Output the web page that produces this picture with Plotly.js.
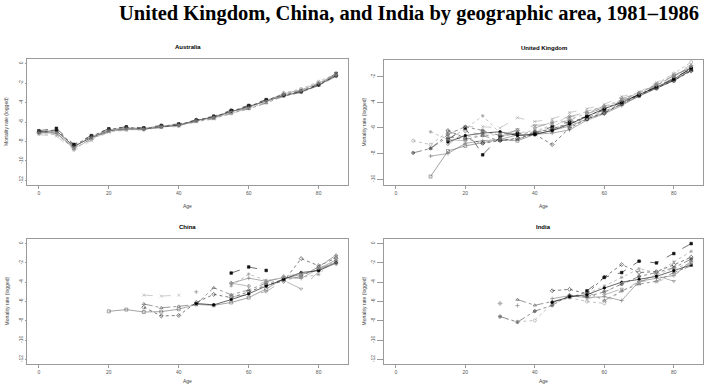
<!DOCTYPE html>
<html><head><meta charset="utf-8">
<script src="https://cdn.plot.ly/plotly-3.0.1.min.js"></script>
<style>html,body{margin:0;padding:0;background:#fff;}#chart{width:708px;height:386px;}</style>
</head><body><div id="chart"></div>
<script>
const n = null;
const ages = [0,5,10,15,20,25,30,35,40,45,50,55,60,65,70,75,80,85];
const xTicks = [0,20,40,60,80];
const yTicksFull = [0,-2,-4,-6,-8,-10,-12];
const yTicksUK = [-2,-4,-6,-8,-10];
const panelTitles = ["Australia","United Kingdom","China","India"];
const mainTitle = "United Kingdom, China, and India by geographic area, 1981–1986";
const xLabel = "Age";
const yLabel = "Mortality rate (logged)";

// Australia
const aus1 = [-7.0,-6.9,-8.5,-7.6,-6.9,-6.7,-6.75,-6.5,-6.35,-5.85,-5.5,-4.95,-4.45,-3.85,-3.3,-2.9,-2.2,-1.2];
const aus2 = [-6.9,-6.65,-8.3,-7.4,-6.7,-6.5,-6.6,-6.35,-6.2,-5.8,-5.4,-4.8,-4.3,-3.7,-3.25,-2.8,-2.1,-1.0];
const aus3 = [-7.2,-7.3,-8.7,-7.8,-6.95,-6.8,-6.8,-6.5,-6.4,-5.9,-5.6,-5.1,-4.6,-3.95,-3.0,-2.6,-1.85,-1.05];
const aus4 = [-7.1,-7.05,-8.8,-7.7,-7.0,-6.75,-6.7,-6.55,-6.3,-5.95,-5.65,-5.1,-4.65,-4.05,-3.35,-2.95,-2.25,-1.3];
const aus5 = [-6.95,-7.2,-8.6,-7.5,-6.8,-6.6,-6.65,-6.4,-6.25,-5.85,-5.45,-4.9,-4.5,-3.8,-3.1,-2.7,-2.0,-1.15];
const aus6 = [-7.3,-7.45,-8.95,-7.9,-7.05,-6.85,-6.8,-6.6,-6.45,-6.0,-5.7,-5.15,-4.6,-4.0,-3.2,-2.75,-1.95,-1.1];
const aus7 = [-7.05,-6.8,-8.4,-7.45,-6.75,-6.55,-6.7,-6.45,-6.3,-5.8,-5.5,-4.85,-4.4,-3.75,-3.2,-2.85,-2.15,-1.25];
const aus8 = [-7.15,-7.1,-8.65,-7.65,-6.9,-6.7,-6.75,-6.5,-6.35,-5.9,-5.55,-5.0,-4.55,-3.9,-3.15,-2.8,-2.05,-1.15];

// United Kingdom
const uk1 = [n,-7.0,-7.3,-6.3,-6.7,-6.6,-6.5,-6.4,-6.2,-5.9,-5.3,-4.9,-4.4,-3.85,-3.3,-2.55,-1.75,-0.85];
const uk2 = [n,-7.95,-7.6,-6.5,-5.9,-6.2,-6.6,-6.5,-6.3,-6.1,-5.6,-5.1,-4.5,-3.9,-3.4,-2.7,-1.9,-1.3];
const uk3 = [n,n,-6.3,-6.9,-6.1,-5.05,-6.4,-6.6,-6.5,-5.6,-5.2,-4.7,-4.3,-3.8,-3.2,-2.6,-1.9,-1.2];
const uk4 = [n,n,-8.2,-8.0,-7.2,-7.0,-6.9,-6.55,-6.5,-6.4,-6.15,-5.4,-4.9,-4.25,-3.5,-2.9,-2.3,-1.5];
const uk5 = [n,n,-9.8,-7.8,-7.4,-7.15,-6.9,-7.0,-6.5,-6.2,-5.85,-5.3,-4.8,-4.15,-3.5,-2.9,-2.3,-1.45];
const uk6 = [n,n,n,-6.9,-6.0,-8.1,-6.7,-6.4,-6.45,-5.9,-5.5,-5.1,-4.6,-4.0,-3.45,-2.8,-2.1,-1.4];
const uk7 = [n,n,-7.6,-6.7,-6.9,-6.6,-7.0,-6.9,-6.4,-6.05,-5.7,-5.2,-4.7,-4.1,-3.4,-2.85,-2.25,-1.5];
const uk8 = [n,n,n,-6.2,-6.8,-7.2,-7.0,-6.8,-6.5,-7.3,-6.0,-5.3,-4.85,-4.1,-3.45,-2.9,-2.3,-1.55];
const uk9 = [n,n,n,-6.5,-5.9,-5.9,-6.0,-5.2,-5.5,-5.3,-4.8,-4.5,-4.15,-3.55,-3.2,-2.45,-1.8,-1.05];
const uk10 = [n,n,n,-7.1,-6.6,-6.4,-6.3,-6.6,-6.5,-6.2,-5.7,-5.1,-4.5,-4.0,-3.4,-2.75,-2.2,-1.3];
const uk11 = [n,n,n,-7.3,-6.3,-6.5,-6.8,-6.1,-5.8,-5.7,-5.4,-4.9,-4.4,-3.9,-3.3,-2.6,-2.0,-1.2];
const uk12 = [n,n,n,-6.9,-7.0,-6.3,-6.5,-6.2,-6.0,-5.55,-5.1,-4.8,-4.3,-3.7,-3.3,-2.65,-1.95,-1.15];

// China
const cn1 = [n,n,n,n,-7.02,-6.84,-7.09,-7.05,-6.8,-6.3,-6.4,-6.1,-5.6,-4.7,-3.6,-3.2,-2.7,-1.9];
const cn2 = [n,n,n,n,n,n,-5.34,-5.44,-5.34,n,n,n,n,n,n,n,n,n];
const cn3 = [n,n,n,n,n,n,-6.25,-6.65,-6.5,-6.3,-4.57,-5.3,-4.8,-4.1,-3.8,-3.4,-2.4,-1.2];
const cn4 = [n,n,n,n,n,n,-6.6,-7.5,-7.45,-6.1,-5.26,-5.6,-5.0,-4.3,-3.9,-1.55,-2.3,-1.5];
const cn5 = [n,n,n,n,n,n,n,n,n,-5.0,n,-4.1,-3.58,-3.9,-3.5,-3.6,-2.6,-1.7];
const cn6 = [n,n,n,n,n,n,n,n,n,n,n,-3.05,-2.42,-2.78,n,n,n,n];
const cn7 = [n,n,n,n,n,n,n,n,n,n,n,-4.38,-3.16,-3.8,-3.6,-3.5,-3.2,-1.5];
const cn8 = [n,n,n,n,n,n,n,n,n,n,n,-5.5,-5.3,-4.99,-3.8,-4.7,-2.9,-1.3];
const cn9 = [n,n,n,n,n,n,n,n,n,-6.2,-6.35,-5.8,-5.2,-4.4,-3.7,-3.0,-2.8,-2.0];
const cn10 = [n,n,n,n,n,n,n,n,n,n,n,-4.1,-4.4,-4.0,-3.4,-3.1,-2.5,-2.1];

// India
const in1 = [n,n,n,n,n,n,-6.2,n,n,n,n,n,n,n,n,n,n,n];
const in2 = [n,n,n,n,n,n,n,-6.42,n,-5.7,-5.4,-5.6,-5.5,-5.9,-3.9,-3.6,-3.3,-1.8];
const in3 = [n,n,n,n,n,n,n,-5.8,-6.39,-6.0,-5.6,-5.0,-5.9,-4.9,-4.2,-3.9,-3.0,-2.3];
const in4 = [n,n,n,n,n,n,-7.55,-8.14,-7.0,-6.4,-5.35,-5.5,-5.0,-4.2,-3.4,-3.0,-2.5,-1.6];
const in5 = [n,n,n,n,n,n,-7.6,-8.1,-7.97,-6.2,-5.6,-6.0,-6.2,-4.9,-4.0,-3.2,-2.6,-2.0];
const in6 = [n,n,n,n,n,n,n,n,n,-4.88,-4.74,-5.2,-3.47,-2.17,-3.0,-2.9,-2.2,-1.4];
const in7 = [n,n,n,n,n,n,n,n,n,n,n,-4.9,-3.5,-3.0,-1.82,-2.0,-1.03,0.0];
const in8 = [n,n,n,n,n,n,n,n,n,n,n,-5.2,-4.4,-3.5,-2.6,-3.0,-1.9,-0.8];
const in9 = [n,n,n,n,n,n,n,n,n,n,n,n,-5.3,-4.7,-4.0,-3.3,-3.9,-1.9];
const in10 = [n,n,n,n,n,n,n,n,n,-6.1,-5.5,-5.3,-4.6,-4.0,-3.7,-3.4,-2.8,-2.2];
const in11 = [n,n,n,n,n,n,n,n,n,n,n,-5.8,-5.1,-4.05,-3.9,-4.0,-3.3,-2.1];

const styles = [
  {c:'#000000', d:'solid', s:'circle', z:2.6},
  {c:'#111111', d:'dash', s:'square', z:2.6},
  {c:'#9a9a9a', d:'dot', s:'circle-open', z:3},
  {c:'#555555', d:'dashdot', s:'triangle-up-open', z:3},
  {c:'#777777', d:'solid', s:'cross-thin-open', z:3},
  {c:'#aaaaaa', d:'dash', s:'x-thin-open', z:3},
  {c:'#222222', d:'dot', s:'diamond-open', z:3},
  {c:'#888888', d:'longdash', s:'triangle-down-open', z:3},
  {c:'#666666', d:'solid', s:'square-open', z:3},
  {c:'#999999', d:'dot', s:'asterisk-open', z:3},
  {c:'#444444', d:'dashdot', s:'circle-cross-open', z:3},
  {c:'#8c8c8c', d:'longdash', s:'diamond-cross-open', z:3}
];

const panels = [
  {series:[aus1,aus2,aus3,aus4,aus5,aus6,aus7,aus8], st:[0,1,2,3,4,5,6,7]},
  {series:[uk1,uk2,uk3,uk4,uk5,uk6,uk7,uk8,uk9,uk10,uk11,uk12], st:[2,10,9,4,8,1,3,6,5,0,7,11]},
  {series:[cn1,cn2,cn3,cn4,cn5,cn6,cn7,cn8,cn9,cn10], st:[8,5,3,6,4,1,9,7,0,11]},
  {series:[in1,in2,in3,in4,in5,in6,in7,in8,in9,in10,in11], st:[11,4,3,10,2,6,1,9,7,0,5]}
];

const W = 708, H = 386;
// frame boxes in pixels [left, top, right, bottom]
const boxes = [[27,59,348,185],[384,60,703,185],[27,239,348,364],[384,239,703,364]];
const yRanges = [[-12.48,0.48],[-10.46,-0.69],[-12.48,0.48],[-12.48,0.48]];
const yTickSets = [yTicksFull, yTicksUK, yTicksFull, yTicksFull];

const traces = [];
const layout = {
  width: W, height: H, margin:{l:0,r:0,t:0,b:0},
  paper_bgcolor:'#fff', plot_bgcolor:'#fff', showlegend:false,
  font:{family:'Liberation Sans, Arial, sans-serif', color:'#333'},
  annotations: []
};

panels.forEach((p, i) => {
  const k = i === 0 ? '' : String(i+1);
  const b = boxes[i];
  p.series.forEach((vals, j) => {
    const s = styles[p.st[j] % styles.length];
    traces.push({
      x: ages, y: vals, xaxis:'x'+k, yaxis:'y'+k, type:'scatter', mode:'lines+markers',
      connectgaps:false, cliponaxis:false,
      line:{color:s.c, width:0.6, dash:s.d},
      marker:{symbol:s.s, size:s.z, color:s.c, line:{color:s.c, width:0.6}}
    });
  });
  const left = i % 2 === 0;
  layout['xaxis'+k] = {
    domain:[b[0]/W, b[2]/W], range:[-3.4,88.4], anchor:'y'+k,
    showgrid:false, zeroline:false, showline:true, mirror:true, linecolor:'#9a9a9a', linewidth:1,
    ticks:'outside', ticklen:3, tickcolor:'#9a9a9a', tickvals:xTicks, ticktext:xTicks.map(String),
    tickfont:{size:5, color:'#555'}
  };
  layout['yaxis'+k] = {
    domain:[1-b[3]/H, 1-b[1]/H], range:yRanges[i], anchor:'x'+k,
    showgrid:false, zeroline:false, showline:true, mirror:true, linecolor:'#9a9a9a', linewidth:1,
    ticks:'outside', ticklen: left ? 1 : 6, tickcolor:'#9a9a9a', tickvals:yTickSets[i],
    ticktext:yTickSets[i].map(String), tickangle:-90, tickfont:{size:5, color:'#555'}
  };
  const cx = (b[0]+b[2])/2;
  layout.annotations.push({text:'<b>'+panelTitles[i]+'</b>', xref:'paper', yref:'paper',
    x:cx/W, y:1-(b[1]-12)/H, xanchor:'center', yanchor:'middle', showarrow:false,
    font:{size:6, color:'#000'}});
  const ageOff = i < 2 ? 21 : 17;
  layout.annotations.push({text:xLabel, xref:'paper', yref:'paper',
    x:cx/W, y:1-(b[3]+ageOff)/H, xanchor:'center', yanchor:'middle', showarrow:false,
    font:{size:5, color:'#444'}});
  layout.annotations.push({text:yLabel, xref:'paper', yref:'paper', textangle:-90,
    x:(b[0]-21)/W, y:1-((b[1]+b[3])/2)/H, xanchor:'center', yanchor:'middle', showarrow:false,
    font:{size:5, color:'#444'}});
});

layout.annotations.push({text:'<b>'+mainTitle+'</b>', xref:'paper', yref:'paper',
  x:117/W, y:1-13/H, xanchor:'left', yanchor:'middle', showarrow:false,
  font:{family:'Liberation Serif, Times New Roman, serif', size:20.5, color:'#000'}});

Plotly.newPlot('chart', traces, layout, {staticPlot:true, displayModeBar:false});
</script>
</body></html>
